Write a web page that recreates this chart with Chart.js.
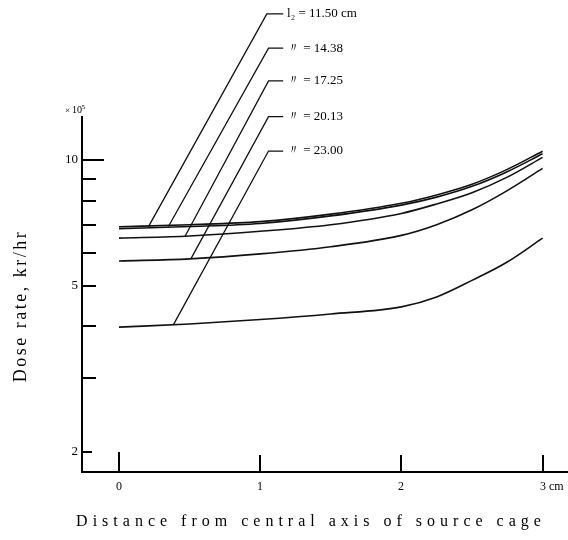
<!DOCTYPE html>
<html>
<head>
<meta charset="utf-8">
<script src="https://cdn.jsdelivr.net/npm/chart.js@4.4.1/dist/chart.umd.min.js"></script>
<style>
  html, body { margin: 0; padding: 0; background: #fff; }
  canvas { display: block; }
</style>
</head>
<body>
<canvas id="myChart" width="568" height="540"></canvas>
<script>
// donnees (x en cm, debit en 10^5 kr/hr)
const distance = [0, 0.5, 1, 1.5, 2, 2.25, 2.5, 2.75, 3];
const rate1150 = [6.92, 7.0, 7.12, 7.42, 7.88, 8.25, 8.75, 9.5, 10.5];
const rate1438 = [6.85, 6.93, 7.05, 7.35, 7.8, 8.15, 8.65, 9.38, 10.35];
const rate1725 = [6.5, 6.58, 6.75, 7.0, 7.45, 7.85, 8.35, 9.1, 10.15];
const rate2013 = [5.73, 5.8, 5.96, 6.2, 6.6, 7.0, 7.6, 8.45, 9.55];
const rate2300 = [3.98, 4.05, 4.15, 4.28, 4.45, 4.7, 5.15, 5.7, 6.5];

const seriesNames = ["l\u2082 = 11.50 cm", "\u3003 = 14.38", "\u3003 = 17.25", "\u3003 = 20.13", "\u3003 = 23.00"];

// lignes de rappel : point sur la courbe -> coude -> fin du trait horizontal
const leaderTipX = [0.208, 0.35, 0.468, 0.509, 0.385];
const leaderTipY = [6.92, 6.93, 6.57, 5.8, 4.03];
const leaderKneeX = [1.047, 1.059, 1.059, 1.059, 1.059];
const leaderKneeY = [22.39, 18.53, 15.47, 12.7, 10.51];
const leaderEndX = 1.163;
const leaderLabelX = 1.19;

const xTicks = [0, 1, 2, 3];
const xTickLabels = ["0", "1", "2", "3 cm"];
const yTicks = [2, 3, 4, 5, 6, 7, 8, 9, 10];
const yTickLabels = ["2", "", "", "5", "", "", "", "", "10"];

const xTitle = "Distance from central axis of source cage";
const yTitle = "Dose rate, kr/hr";

const serif = "'Liberation Serif', 'DejaVu Serif', serif";

function pts(ys) {
  return distance.map((d, i) => ({ x: d, y: ys[i] }));
}

const curves = [rate1150, rate1438, rate1725, rate2013, rate2300].map((ys, i) => ({
  label: seriesNames[i],
  data: pts(ys),
  borderColor: "#111",
  borderWidth: 1.6,
  pointRadius: 0,
  cubicInterpolationMode: "monotone",
  fill: false
}));

const leaders = seriesNames.map((name, i) => ({
  label: "leader " + name,
  data: [
    { x: leaderTipX[i], y: leaderTipY[i] },
    { x: leaderKneeX[i], y: leaderKneeY[i] },
    { x: leaderEndX, y: leaderKneeY[i] }
  ],
  borderColor: "#111",
  borderWidth: 1.3,
  pointRadius: 0,
  tension: 0,
  clip: false,
  fill: false
}));

const overlay = {
  id: "overlay",
  beforeDraw(chart) {
    const c = chart.ctx;
    c.save();
    c.fillStyle = "#fff";
    c.fillRect(0, 0, chart.width, chart.height);
    c.restore();
  },
  afterDraw(chart) {
    const c = chart.ctx;
    const a = chart.chartArea;
    const x = chart.scales.x;
    const y = chart.scales.y;
    c.save();
    c.strokeStyle = "#000";
    c.fillStyle = "#000";
    c.lineWidth = 2;

    // graduations de l'axe y (vers l'interieur)
    c.font = "13px " + serif;
    c.textAlign = "right";
    c.textBaseline = "middle";
    yTicks.forEach((v, i) => {
      const py = Math.round(y.getPixelForValue(v));
      const len = v === 10 ? 22 : (v === 2 ? 10 : 14);
      c.beginPath();
      c.moveTo(a.left, py);
      c.lineTo(a.left + len, py);
      c.stroke();
      if (yTickLabels[i]) c.fillText(yTickLabels[i], a.left - 4, py);
    });

    // graduations de l'axe x
    c.font = "12px " + serif;
    c.textAlign = "left";
    c.textBaseline = "middle";
    xTicks.forEach((v, i) => {
      const px = Math.round(x.getPixelForValue(v));
      const len = i === 0 ? 20 : 17;
      c.beginPath();
      c.moveTo(px, a.bottom);
      c.lineTo(px, a.bottom - len);
      c.stroke();
      const w0 = c.measureText(xTickLabels[i].charAt(0)).width;
      c.fillText(xTickLabels[i], px - w0 / 2, a.bottom + 15);
    });

    // facteur x 10^5
    c.textAlign = "left";
    c.textBaseline = "alphabetic";
    c.font = "9px " + serif;
    c.fillText("\u00d7", a.left - 17, a.top - 4);
    c.font = "10px " + serif;
    c.fillText("10", a.left - 10, a.top - 4);
    c.font = "7px " + serif;
    c.fillText("5", a.left - 0.5, a.top - 8);

    // etiquettes des lignes de rappel
    c.font = "13px " + serif;
    c.textBaseline = "middle";
    const lx = x.getPixelForValue(leaderLabelX);
    seriesNames.forEach((name, i) => {
      c.fillText(name, lx, y.getPixelForValue(leaderKneeY[i]));
    });

    // titres des axes
    c.letterSpacing = "5px";
    c.font = "16px " + serif;
    c.textAlign = "center";
    c.fillText(xTitle, 311, 522);
    c.letterSpacing = "2.5px";
    c.font = "18px " + serif;
    c.translate(21, 306);
    c.rotate(-Math.PI / 2);
    c.fillText(yTitle, 0, 0);
    c.restore();
  }
};

const ctx = document.getElementById("myChart").getContext("2d");
const chart = new Chart(ctx, {
  type: "line",
  data: { datasets: curves.concat(leaders) },
  plugins: [overlay],
  options: {
    responsive: false,
    animation: false,
    events: [],
    layout: { padding: { top: 117, right: 0, left: 0, bottom: 0 } },
    plugins: { legend: { display: false }, tooltip: { enabled: false } },
    scales: {
      x: {
        type: "linear",
        min: -0.262,
        max: 3.18,
        grid: { display: false },
        ticks: { display: false },
        border: { display: true, color: "#000", width: 2 },
        afterFit(s) { s.height = 68; }
      },
      y: {
        type: "logarithmic",
        min: 1.79,
        max: 12.68,
        grid: { display: false },
        ticks: { display: false },
        border: { display: true, color: "#000", width: 2 },
        afterFit(s) { s.width = 82; }
      }
    }
  }
});
</script>
</body>
</html>
